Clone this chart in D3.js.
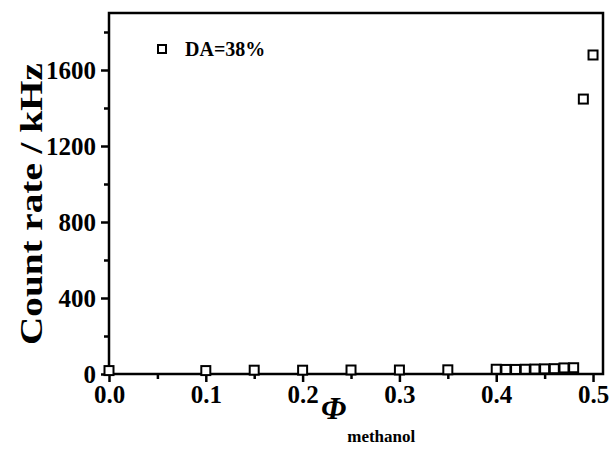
<!DOCTYPE html>
<html><head><meta charset="utf-8">
<script src="https://cdn.jsdelivr.net/npm/d3@7"></script>
<style>body{margin:0;background:#fff}svg{display:block}</style>
</head><body>
<svg id="c" width="611" height="454"></svg>
<script>
const xValues = [0.0, 0.10, 0.15, 0.20, 0.25, 0.30, 0.35, 0.40, 0.41, 0.42, 0.43, 0.44, 0.45, 0.46, 0.47, 0.48, 0.49, 0.50];
const countRate = [18, 18, 20, 20, 21, 21, 22, 25, 24, 24, 25, 26, 27, 28, 32, 33, 1447, 1679];
const xTicks = [0.0, 0.1, 0.2, 0.3, 0.4, 0.5];
const xMinor = [0.05, 0.15, 0.25, 0.35, 0.45];
const yTicks = [0, 400, 800, 1200, 1600];
const yMinor = [200, 600, 1000, 1400, 1800];
const seriesLabel = "DA=38%";

const svg = d3.select("#c");
const L = 109, R = 603, T = 13, B = 374;
const x = d3.scaleLinear().domain([0, 0.5103]).range([L, R]);
const y = d3.scaleLinear().domain([0, 1900]).range([B, T]);
const font = "Liberation Serif, Times New Roman, serif";

// frame
svg.append("rect").attr("x", L).attr("y", T).attr("width", R - L).attr("height", B - T)
  .attr("fill", "none").attr("stroke", "#000").attr("stroke-width", 2.5);

// x axis
svg.append("g").attr("transform", `translate(0,${B})`)
  .call(d3.axisBottom(x).tickValues(xTicks).tickFormat(d3.format(".1f")).tickSize(8).tickPadding(3));
svg.append("g").attr("transform", `translate(0,${B})`)
  .call(d3.axisBottom(x).tickValues(xMinor).tickFormat("").tickSize(5));
// y axis
svg.append("g").attr("transform", `translate(${L},0)`)
  .call(d3.axisLeft(y).tickValues(yTicks).tickFormat(d3.format("d")).tickSize(8).tickPadding(5));
svg.append("g").attr("transform", `translate(${L},0)`)
  .call(d3.axisLeft(y).tickValues(yMinor).tickFormat("").tickSize(5));

svg.selectAll(".domain").remove();
svg.selectAll(".tick line").attr("stroke", "#000").attr("stroke-width", 2.5);
svg.selectAll(".tick text").style("font-size", "25px").style("font-weight", "bold")
  .style("font-family", font).style("fill", "#000");

// data markers
const s = 9;
svg.append("g").selectAll("rect").data(xValues.map((v, i) => [v, countRate[i]]))
  .join("rect")
  .attr("x", d => x(d[0]) - s / 2).attr("y", d => y(d[1]) - s / 2)
  .attr("width", s).attr("height", s)
  .attr("fill", "#fff").attr("stroke", "#000").attr("stroke-width", 2);

// legend
svg.append("rect").attr("x", 158).attr("y", 45).attr("width", 8).attr("height", 8)
  .attr("fill", "#fff").attr("stroke", "#000").attr("stroke-width", 2);
svg.append("text").attr("x", 185).attr("y", 56).text(seriesLabel)
  .style("font-family", font).style("font-weight", "bold").style("font-size", "20px");

// y title
svg.append("text").attr("transform", `translate(42,204) rotate(-90)`)
  .attr("text-anchor", "middle").text("Count rate / kHz")
  .attr("textLength", 282).attr("lengthAdjust", "spacingAndGlyphs")
  .style("font-family", font).style("font-weight", "bold").style("font-size", "31px");

// x title
const xt = svg.append("text").attr("x", 321).attr("y", 419)
  .style("font-family", font).style("font-weight", "bold");
xt.append("tspan").text("Φ").style("font-style", "italic").style("font-size", "32px");
xt.append("tspan").text("methanol").style("font-size", "17px").attr("dy", 23).attr("dx", 1);
</script>
</body></html>
